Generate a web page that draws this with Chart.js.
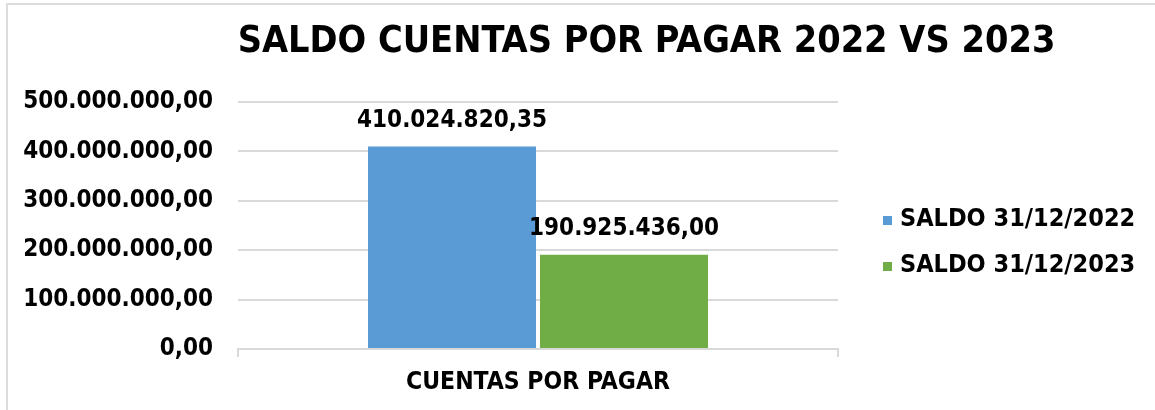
<!DOCTYPE html>
<html>
<head>
<meta charset="utf-8">
<script src="https://cdn.jsdelivr.net/npm/chart.js@4/dist/chart.umd.min.js"></script>
<style>
  html, body { margin: 0; padding: 0; background: #ffffff; }
  #wrap { position: relative; width: 1155px; height: 410px; overflow: hidden; }
  #frame { position: absolute; left: 6px; top: 3px; width: 1200px; height: 450px; border: 2px solid #dcdcdc; box-sizing: border-box; pointer-events: none; }
  canvas { position: absolute; left: 0; top: 0; }
</style>
</head>
<body>
<div id="wrap">
  <canvas id="c" width="1155" height="410"></canvas>
  <div id="frame"></div>
</div>
<script>
const chartTitle = 'SALDO CUENTAS POR PAGAR 2022 VS 2023';
const categories = ['CUENTAS POR PAGAR'];
const seriesNames = ['SALDO 31/12/2022', 'SALDO 31/12/2023'];
const saldo2022 = [410024820.35];
const saldo2023 = [190925436.00];
const seriesColors = ['#5B9BD5', '#70AD47'];
const yTickMin = 0;
const yTickMax = 500000000;
const yTickStep = 100000000;

const FONT = "'DejaVu Sans Condensed', 'DejaVu Sans', sans-serif";

function fmt(v) {
  const fixed = Number(v).toFixed(2);
  const parts = fixed.split('.');
  const intPart = parts[0].replace(/\B(?=(\d{3})+(?!\d))/g, '.');
  return intPart + ',' + parts[1];
}

// data labels above bars
const dataLabels = {
  id: 'dataLabels',
  afterDatasetsDraw(chart) {
    const ctx = chart.ctx;
    ctx.save();
    ctx.font = "bold 24px " + FONT;
    ctx.fillStyle = '#000000';
    ctx.textAlign = 'center';
    ctx.textBaseline = 'middle';
    chart.data.datasets.forEach((ds, di) => {
      const meta = chart.getDatasetMeta(di);
      meta.data.forEach((el, i) => {
        ctx.fillText(fmt(ds.data[i]), el.x, el.y - 26);
      });
    });
    ctx.restore();
  }
};

// title and legend (Excel-style placement)
const titleAndLegend = {
  id: 'titleAndLegend',
  afterDraw(chart) {
    const ctx = chart.ctx;
    const area = chart.chartArea;
    ctx.save();
    ctx.fillStyle = '#000000';
    ctx.textAlign = 'center';
    ctx.textBaseline = 'middle';
    ctx.font = "bold 37.5px " + FONT;
    ctx.fillText(chartTitle, 646.5, 42);

    ctx.font = "bold 25px " + FONT;
    ctx.textAlign = 'left';
    const legendX = area.right + 45;
    const legendY0 = 219;
    const legendStep = 46;
    chart.data.datasets.forEach((ds, i) => {
      const cy = legendY0 + i * legendStep;
      ctx.fillStyle = ds.backgroundColor;
      ctx.fillRect(legendX, cy - 3, 9, 9);
      ctx.fillStyle = '#000000';
      ctx.fillText(ds.label, legendX + 17, cy);
    });
    ctx.restore();
  }
};

new Chart(document.getElementById('c'), {
  type: 'bar',
  data: {
    labels: categories,
    datasets: [
      { label: seriesNames[0], data: saldo2022, backgroundColor: seriesColors[0] },
      { label: seriesNames[1], data: saldo2023, backgroundColor: seriesColors[1] }
    ]
  },
  options: {
    responsive: false,
    animation: false,
    devicePixelRatio: 1,
    layout: { padding: { left: 0, right: 317, top: 102, bottom: 0 } },
    datasets: { bar: { categoryPercentage: 0.5733, barPercentage: 0.977 } },
    plugins: {
      title: { display: false },
      legend: { display: false },
      tooltip: { enabled: false }
    },
    scales: {
      x: {
        offset: true,
        grid: { display: true, drawOnChartArea: false, drawTicks: true, tickLength: 8, offset: true, color: '#d9d9d9', lineWidth: 2 },
        border: { display: true, color: '#d9d9d9', width: 2 },
        ticks: { color: '#000000', padding: 11, font: { family: FONT, size: 24.5, weight: 'bold' } },
        afterFit(s) { s.height = 61; }
      },
      y: {
        min: yTickMin,
        max: yTickMax,
        ticks: {
          stepSize: yTickStep,
          color: '#000000',
          padding: 25,
          font: { family: FONT, size: 24, weight: 'bold' },
          callback: (v) => fmt(v)
        },
        grid: { color: '#d9d9d9', lineWidth: 2, drawTicks: false },
        border: { display: false },
        afterFit(s) { s.width = 238; }
      }
    }
  },
  plugins: [dataLabels, titleAndLegend]
});
</script>
</body>
</html>
